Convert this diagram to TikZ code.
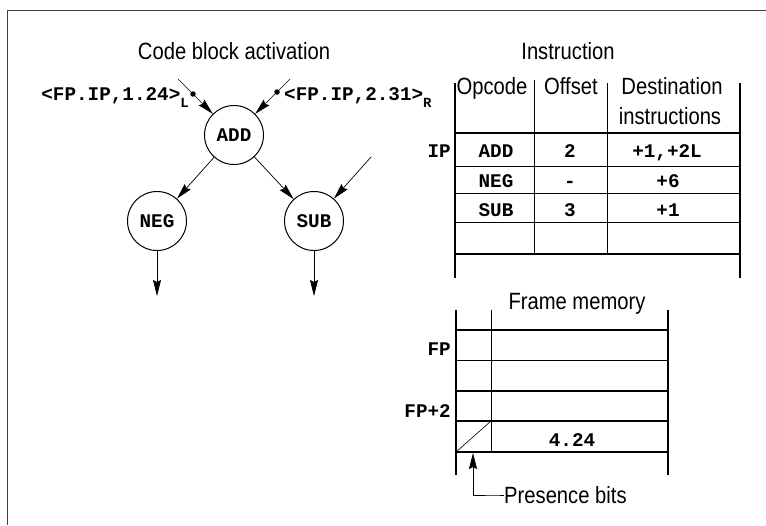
\documentclass[tikz,border=0pt]{standalone}
\usepackage{fontspec}
\setmainfont{Liberation Sans}
\newfontfamily\courb{Liberation Mono}
\newfontfamily\condsans[FakeStretch=0.86]{Liberation Sans}
\usetikzlibrary{arrows.meta}
\newcommand{\mtfont}{\fontsize{19.3}{19.3}\selectfont\courb\bfseries}
\newcommand{\mtsubfont}{\fontsize{14}{14}\selectfont\courb\bfseries}
\newcommand{\sffont}{\fontsize{23.5}{23.5}\selectfont\condsans}
\tikzset{
  circ/.style={circle, draw, line width=1pt, minimum size=59pt, inner sep=0pt, font=\mtfont},
  arr/.style={line width=0.7pt, arrows={-Stealth[length=16pt,width=8pt,inset=2pt]}},
  plain/.style={line width=0.7pt},
  dotn/.style={circle, fill, inner sep=0pt, minimum size=5.5pt},
  ttxt/.style={inner sep=0pt, font=\mtfont},
  stxt/.style={inner sep=0pt, font=\sffont},
  heavy/.style={line width=1.1pt},
  rowline/.style={line width=0.6pt},
  frameline/.style={line width=0.8pt, draw=black!75}
}
\begin{document}
\begin{tikzpicture}[x=1pt,y=-1pt]
\useasboundingbox (0,0) rectangle (766,525);
% outer frame (left and top only)
\draw[frameline] (7,525) -- (7,10) -- (766,10);

% ---------------- Code block activation ----------------
\node[stxt, anchor=base] (t1) at (234,59) {Code block activation};
\node[circ] (ADD) at (234,135) {ADD};
\node[circ] (NEG) at (157,221) {NEG};
\node[circ] (SUB) at (314,221) {SUB};

\coordinate (inL) at (178,79);
\coordinate (inR) at (290,79);
\node[dotn] (dL) at (193,94) {};
\node[dotn] (dR) at (277,92) {};
\draw[plain] (inL) -- (dL);
\draw[arr] (dL) -- (ADD);
\draw[plain] (inR) -- (dR);
\draw[arr] (dR) -- (ADD);

\node[ttxt, anchor=base east] (lblL) at (189,100) {<FP.IP,1.24>\raisebox{-7pt}{\mtsubfont L}};
\node[ttxt, anchor=base west] (lblR) at (284,100) {<FP.IP,2.31>\raisebox{-7pt}{\mtsubfont R}};

\draw[arr] (ADD) -- (NEG);
\draw[arr] (ADD) -- (SUB);
\coordinate (inS) at (371,157);
\draw[arr] (inS) -- (SUB);

\coordinate (outN) at (157,296);
\coordinate (outS) at (314,296);
\draw[arr] (NEG) -- (outN);
\draw[arr] (SUB) -- (outS);

% ---------------- Instruction table ----------------
\node[stxt, anchor=base] (t2) at (568,59) {Instruction};
\node[stxt, anchor=base] (hOp) at (492,94) {Opcode};
\node[stxt, anchor=base] (hOf) at (571,94) {Offset};
\node[stxt, anchor=base] (hD1) at (672,94) {Destination};
\node[stxt, anchor=base] (hD2) at (670,124) {instructions};

\draw[heavy] (455,83) -- (455,278);
\draw[heavy] (740,83) -- (740,278);
\draw[rowline] (534,80) -- (534,254);
\draw[rowline] (607,83) -- (607,254);
\draw[heavy] (455,133) -- (740,133);
\draw[rowline] (455,166) -- (740,166);
\draw[rowline] (455,193) -- (740,193);
\draw[rowline] (455,222) -- (740,222);
\draw[heavy] (455,254) -- (740,254);

\node[ttxt, anchor=base east] (ip) at (451,157) {IP};
\node[ttxt, anchor=base] (r1a) at (496,157) {ADD};
\node[ttxt, anchor=base] (r1b) at (570,157) {2};
\node[ttxt, anchor=base] (r1c) at (667,157) {+1,+2L};
\node[ttxt, anchor=base] (r2a) at (496,187) {NEG};
\node[ttxt, anchor=base] (r2b) at (570,187) {-};
\node[ttxt, anchor=base] (r2c) at (668,187) {+6};
\node[ttxt, anchor=base] (r3a) at (496,216) {SUB};
\node[ttxt, anchor=base] (r3b) at (570,216) {3};
\node[ttxt, anchor=base] (r3c) at (668,216) {+1};

% ---------------- Frame memory ----------------
\node[stxt, anchor=base] (t3) at (577,309) {Frame memory};
\draw[heavy] (456,310) -- (456,475);
\draw[heavy] (668,310) -- (668,475);
\draw[rowline] (491,310) -- (491,452);
\draw[heavy] (456,330) -- (668,330);
\draw[rowline] (456,360) -- (668,360);
\draw[heavy] (456,391) -- (668,391);
\draw[heavy] (456,421) -- (668,421);
\draw[heavy] (456,452) -- (668,452);
\draw[rowline] (456,452) -- (491,421);

\node[ttxt, anchor=base east] (fp) at (451,355) {FP};
\node[ttxt, anchor=base east] (fp2) at (451,417) {FP+2};
\node[ttxt, anchor=base] (val) at (572,446) {4.24};

\coordinate (pbTip) at (473,453);
\coordinate (pbCorner) at (473,495);
\node[stxt, anchor=west] (pb) at (504,495) {Presence bits};
\draw[arr] (pb.west) -- ++(-7,0) -- (pbCorner) -- (pbTip);
\end{tikzpicture}
\end{document}
